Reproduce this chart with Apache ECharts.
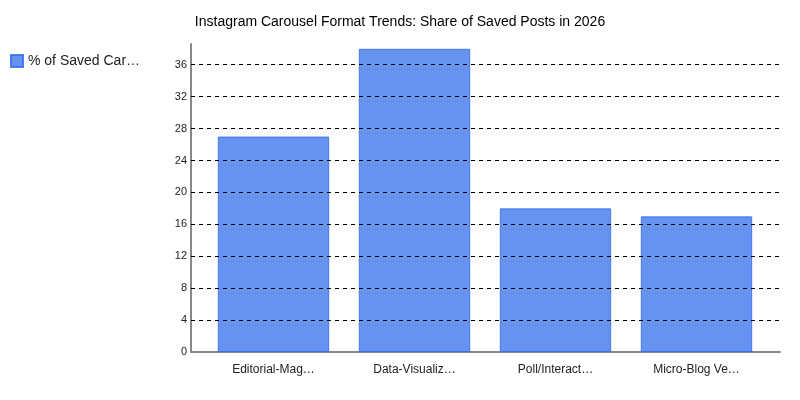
<!DOCTYPE html>
<html>
<head>
<meta charset="utf-8">
<script src="https://cdn.jsdelivr.net/npm/echarts@6/dist/echarts.min.js"></script>
<style>
  html, body { margin: 0; padding: 0; background: #fff; }
  #chart { width: 800px; height: 400px; }
</style>
</head>
<body>
<div id="chart"></div>
<script>
// 数据
var categories = ['Editorial-Magazine Style', 'Data-Visualization', 'Poll/Interactive Quiz', 'Micro-Blog Vertical Text'];
var savedShare = [27, 38, 18, 17];
var gridTicks = [4, 8, 12, 16, 20, 24, 28, 32, 36];
var seriesName = '% of Saved Carousel Posts';

var font = 'Liberation Sans, Arial, sans-serif';
var chart = echarts.init(document.getElementById('chart'));

// 按字符数截断
function cut(s, n) {
  return s.length > n ? s.slice(0, n) + '…' : s;
}

var option = {
  backgroundColor: '#fff',
  animation: false,
  title: {
    text: 'Instagram Carousel Format Trends: Share of Saved Posts in 2026',
    left: 'center',
    top: 10,
    textStyle: { fontFamily: font, fontSize: 14, fontWeight: 'normal', color: '#000' }
  },
  legend: {
    left: 5,
    top: 49,
    orient: 'vertical',
    icon: 'rect',
    itemWidth: 12,
    itemHeight: 12,
    data: [seriesName],
    formatter: function (name) { return cut(name, 14); },
    textStyle: { fontFamily: font, fontSize: 14, color: '#222' }
  },
  // 两个网格：0 画坐标轴和虚线，1 画柱子（两侧留白）
  grid: [
    { left: 191, right: 20, top: 44, bottom: 48 },
    { left: 203, right: 33, top: 44, bottom: 48 }
  ],
  xAxis: [
    {
      gridIndex: 0,
      type: 'value',
      min: 0,
      max: 1,
      axisLine: { show: true, onZero: false, lineStyle: { color: '#888', width: 2 } },
      axisTick: { show: false },
      axisLabel: { show: false },
      splitLine: { show: false }
    },
    {
      gridIndex: 1,
      type: 'category',
      data: categories,
      axisLine: { show: false },
      axisTick: { show: false },
      axisLabel: {
        interval: 0,
        margin: 12,
        fontFamily: font,
        fontSize: 12,
        color: '#222',
        formatter: function (v) { return cut(v, 13); }
      }
    }
  ],
  yAxis: [
    {
      gridIndex: 0,
      type: 'value',
      min: 0,
      max: 38.6,
      interval: 4,
      axisLine: { show: true, lineStyle: { color: '#888', width: 2 } },
      axisTick: { show: false },
      splitLine: { show: false },
      axisLabel: {
        showMaxLabel: false,
        margin: 4,
        fontFamily: font,
        fontSize: 11,
        color: '#222'
      }
    },
    {
      gridIndex: 1,
      type: 'value',
      min: 0,
      max: 38.6,
      show: false
    }
  ],
  series: [
    {
      name: seriesName,
      type: 'bar',
      xAxisIndex: 1,
      yAxisIndex: 1,
      data: savedShare,
      barCategoryGap: '21%',
      z: 3,
      itemStyle: {
        color: 'rgba(51,110,235,0.75)',
        borderColor: 'rgba(51,110,235,0.85)',
        borderWidth: 1
      }
    },
    {
      // 网格虚线
      name: 'grid',
      type: 'line',
      xAxisIndex: 0,
      yAxisIndex: 0,
      data: [],
      z: 1,
      silent: true,
      markLine: {
        silent: true,
        symbol: 'none',
        label: { show: false },
        lineStyle: { color: '#000', type: [4, 4], width: 1 },
        data: gridTicks.map(function (v) { return { yAxis: v }; })
      }
    }
  ]
};

chart.setOption(option);
</script>
</body>
</html>
